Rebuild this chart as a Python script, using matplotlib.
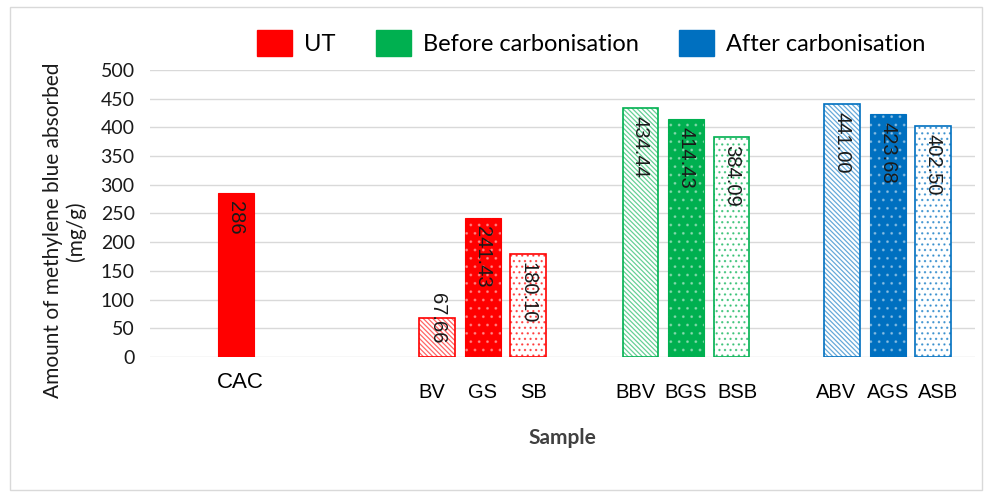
import numpy as np
import matplotlib; matplotlib.use('Agg')
import matplotlib.pyplot as plt
from matplotlib.patches import Patch, Rectangle

plt.rcParams['font.family'] = ['Lato', 'DejaVu Sans']
plt.rcParams['hatch.linewidth'] = 0.9

# data
samples = ['CAC', 'BV', 'GS', 'SB', 'BBV', 'BGS', 'BSB', 'ABV', 'AGS', 'ASB']
values = [286, 67.66, 241.43, 180.10, 434.44, 414.43, 384.09, 441.00, 423.68, 402.50]
labels = ['286', '67.66', '241.43', '180.10', '434.44', '414.43', '384.09', '441.00', '423.68', '402.50']
groups = ['UT', 'UT', 'UT', 'UT', 'Before carbonisation', 'Before carbonisation', 'Before carbonisation',
          'After carbonisation', 'After carbonisation', 'After carbonisation']
styles = ['solid', 'stripe', 'dots', 'sparse', 'stripe', 'dots', 'sparse', 'stripe', 'dots', 'sparse']

colors = {'UT': '#ff0000', 'Before carbonisation': '#00b050', 'After carbonisation': '#0070c0'}

# layout: group centres and in-group offsets (px / 45.5)
group_x = [1.89, 7.36, 11.78, 16.22]
offsets = [0, -1.05, -0.05, 0.95, -1.0, 0.0, 1.0, -1.02, 0.0, 0.98]
gidx = [0, 1, 1, 1, 2, 2, 2, 3, 3, 3]
xs = [group_x[g] + o for g, o in zip(gidx, offsets)]
w = 0.79

fig = plt.figure(figsize=(9.9, 4.93), dpi=100)
fig.patches.append(Rectangle((10/990, 3/493), 972/990, 483/493, transform=fig.transFigure,
                             fill=False, edgecolor='#d9d9d9', lw=1))
ax = fig.add_axes([150/990, 1-357/493, 825/990, 287/493])

for x, v, lab, g, st in zip(xs, values, labels, groups, styles):
    c = colors[g]
    if st == 'solid':
        ax.bar(x, v, w, color=c, edgecolor=c, lw=0.8, zorder=3)
    elif st == 'stripe':
        ax.bar(x, v, w, facecolor='white', edgecolor='none', lw=0, zorder=3)
        ax.bar(x, v, w, fill=False, edgecolor=c, hatch='\\' * 7, lw=0, zorder=3, alpha=0.6)
        ax.bar(x, v, w, fill=False, edgecolor=c, lw=1.2, zorder=4)
    elif st == 'dots':
        ax.bar(x, v, w, color=c, edgecolor=c, lw=0.8, zorder=3)
        ax.bar(x, v, w, fill=False, edgecolor='#ffffff', hatch='..', lw=0, zorder=4, alpha=0.35)
    else:
        ax.bar(x, v, w, facecolor='white', edgecolor='none', lw=0, zorder=3)
        ax.bar(x, v, w, fill=False, edgecolor=c, hatch='...', lw=0, zorder=3, alpha=0.6)
        ax.bar(x, v, w, fill=False, edgecolor=c, lw=1.2, zorder=4)
    if v > 100:
        ax.text(x, v - 14, lab, rotation=270, ha='center', va='top',
                fontsize=14.5, family='Liberation Sans', color='#1a1a1a', zorder=5)
    else:
        ax.text(x, v, lab, rotation=270, ha='center', va='center',
                fontsize=14.5, family='Liberation Sans', color='#1a1a1a', zorder=5)

ax.set_xlim(0, 825/45.5)
ax.set_ylim(0, 500)
ax.set_yticks(np.arange(0, 501, 50))
ax.tick_params(axis='y', length=0, labelsize=14, pad=11, colors='#1a1a1a')
ax.set_xticks([])
ax.grid(axis='y', color='#d9d9d9', lw=1, zorder=0)
for s in ax.spines.values():
    s.set_visible(False)

# category labels
for x, name, g in zip(xs, samples, gidx):
    if g == 0:
        ax.text(x + 0.09, -0.09, name, transform=ax.get_xaxis_transform(), ha='center', va='center',
                fontsize=16, family='Liberation Sans')
    else:
        lx = group_x[g] + (x - group_x[g]) * 1.12
        ax.text(lx, -0.125, name, transform=ax.get_xaxis_transform(), ha='center', va='center',
                fontsize=14.5, family='Liberation Sans')

ax.set_xlabel('Sample', fontsize=15, color='#404040', labelpad=51, fontweight='bold')
ax.set_ylabel('Amount of methylene blue absorbed\n(mg/g)', fontsize=15, color='#1a1a1a',
              linespacing=1.1)
ax.yaxis.set_label_coords(-0.078, 0.44)

handles = [Patch(facecolor=colors[k], edgecolor=colors[k]) for k in colors]
fig.legend(handles, list(colors), loc='center', bbox_to_anchor=(591/990, 1-43/493), ncol=3,
           frameon=False, fontsize=17, handlelength=1.5, handleheight=1.3, handletextpad=0.5,
           columnspacing=1.7)

plt.savefig('out.png', dpi=100)
